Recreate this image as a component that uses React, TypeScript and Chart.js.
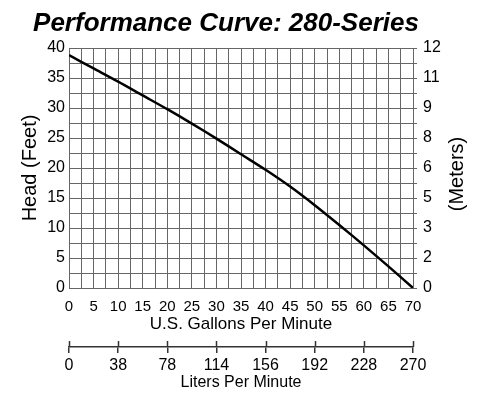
import React, { useEffect, useRef } from "react";
import { Chart, registerables } from "chart.js";

Chart.register(...registerables);

// flow (US gallons per minute) vs head (feet)
const gpm = [0, 5, 10, 15, 20, 25, 30, 35, 40, 45, 50, 55, 60, 65, 70];
const headFeet = [38.8, 36.6, 34.4, 32.1, 29.8, 27.4, 24.9, 22.3, 19.7, 16.9, 13.8, 10.5, 7.1, 3.6, 0];

// right axis labels (meters) at 0, 5, 10 ... 40 ft
const meterLabels = ["0", "2", "3", "5", "6", "8", "9", "11", "12"];
// liters per minute labels at 0, 10, 20 ... 70 gpm
const literLabels = ["0", "38", "78", "114", "156", "192", "228", "270"];

const FONT = "'Liberation Sans', Arial, Helvetica, sans-serif";
const GRID = "#666";

const extrasPlugin = {
  id: "extras",
  afterDraw(chart: any) {
    const { ctx } = chart;
    ctx.save();
    // title
    ctx.fillStyle = "#000";
    ctx.font = `italic bold 26px ${FONT}`;
    ctx.textAlign = "center";
    ctx.textBaseline = "middle";
    ctx.fillText("Performance Curve: 280-Series", 226, 24);

    // right axis title, reads bottom to top
    ctx.font = `20px ${FONT}`;
    ctx.translate(457, 174);
    ctx.rotate(-Math.PI / 2);
    ctx.fillText("(Meters)", 0, 0);
    ctx.restore();

    // upper half of the liters axis ticks
    const s = chart.scales.xL;
    ctx.save();
    ctx.strokeStyle = "#333";
    ctx.lineWidth = 1.5;
    s.ticks.forEach((t: any) => {
      const x = Math.round(s.getPixelForValue(t.value)) + 0.5;
      ctx.beginPath();
      ctx.moveTo(x, s.top - 6);
      ctx.lineTo(x, s.top);
      ctx.stroke();
    });
    ctx.restore();
  },
};

const App: React.FC = () => {
  const canvasRef = useRef<HTMLCanvasElement>(null);
  const chartRef = useRef<Chart>();

  useEffect(() => {
    document.body.style.margin = "0";
    const ctx = canvasRef.current?.getContext("2d");
    if (!ctx) return;
    if (chartRef.current) chartRef.current.destroy();

    Chart.defaults.font.family = FONT;
    Chart.defaults.color = "#000";

    chartRef.current = new Chart(ctx, {
      type: "line",
      data: {
        datasets: [
          {
            label: "Head",
            data: gpm.map((g, i) => ({ x: g, y: headFeet[i] })),
            borderColor: "#000",
            borderWidth: 2.5,
            pointRadius: 0,
            tension: 0.3,
            fill: false,
          },
        ],
      },
      options: {
        responsive: false,
        animation: false,
        layout: { padding: { top: 48, left: 0, right: 0, bottom: 0 } },
        plugins: {
          legend: { display: false },
          tooltip: { enabled: false },
          title: { display: false },
        },
        scales: {
          x: {
            type: "linear",
            position: "bottom",
            weight: 0,
            min: 0,
            max: 70,
            afterFit: (s: any) => {
              s.height = 59;
            },
            grid: { color: GRID, lineWidth: 1, drawTicks: false },
            border: { color: GRID, width: 1 },
            ticks: {
              stepSize: 2.5,
              autoSkip: false,
              maxRotation: 0,
              padding: 10,
              font: { size: 15 },
              color: "#000",
              callback: (v: any) => (Number(v) % 5 === 0 ? String(v) : ""),
            },
            title: {
              display: true,
              text: "U.S. Gallons Per Minute",
              font: { size: 17 },
              color: "#000",
              padding: { top: 0, bottom: 12 },
            },
          },
          xL: {
            type: "linear",
            position: "bottom",
            weight: 1,
            min: 0,
            max: 70,
            afterFit: (s: any) => {
              s.height = 59;
            },
            grid: {
              drawOnChartArea: false,
              drawTicks: true,
              tickLength: 6,
              color: "#333",
              lineWidth: 1.5,
            },
            border: { display: true, color: "#333", width: 1.5 },
            ticks: {
              stepSize: 10,
              autoSkip: false,
              maxRotation: 0,
              padding: 3,
              font: { size: 16 },
              color: "#000",
              callback: (_v: any, i: number) => literLabels[i] ?? "",
            },
            title: {
              display: true,
              text: "Liters Per Minute",
              font: { size: 16 },
              color: "#000",
              padding: { top: 0, bottom: 14 },
            },
          },
          y: {
            type: "linear",
            position: "left",
            min: 0,
            max: 40,
            afterFit: (s: any) => {
              s.width = 69;
            },
            grid: { color: GRID, lineWidth: 1, drawTicks: false },
            border: { color: GRID, width: 1 },
            ticks: {
              stepSize: 2.5,
              autoSkip: false,
              padding: 4,
              font: { size: 16 },
              color: "#000",
              callback: (v: any) => (Number(v) % 5 === 0 ? String(v) : ""),
            },
            title: {
              display: true,
              text: "Head (Feet)",
              font: { size: 20 },
              color: "#000",
              padding: { top: 18, bottom: 0 },
            },
          },
          y2: {
            type: "linear",
            position: "right",
            min: 0,
            max: 40,
            afterFit: (s: any) => {
              s.width = 87;
            },
            grid: {
              drawOnChartArea: false,
              drawTicks: true,
              tickLength: 4,
              color: GRID,
              lineWidth: 1,
            },
            border: { color: GRID, width: 1 },
            ticks: {
              stepSize: 2.5,
              autoSkip: false,
              padding: 6,
              font: { size: 16 },
              color: "#000",
              callback: (v: any) =>
                Number(v) % 5 === 0 ? meterLabels[Number(v) / 5] : "",
            },
          },
        },
      },
      plugins: [extrasPlugin],
    });

    return () => {
      if (chartRef.current) {
        chartRef.current.destroy();
        chartRef.current = undefined;
      }
    };
  }, []);

  return (
    <div style={{ width: 500, height: 406, background: "#fff" }}>
      <canvas ref={canvasRef} width={500} height={406} style={{ display: "block" }} />
    </div>
  );
};

export default App;
